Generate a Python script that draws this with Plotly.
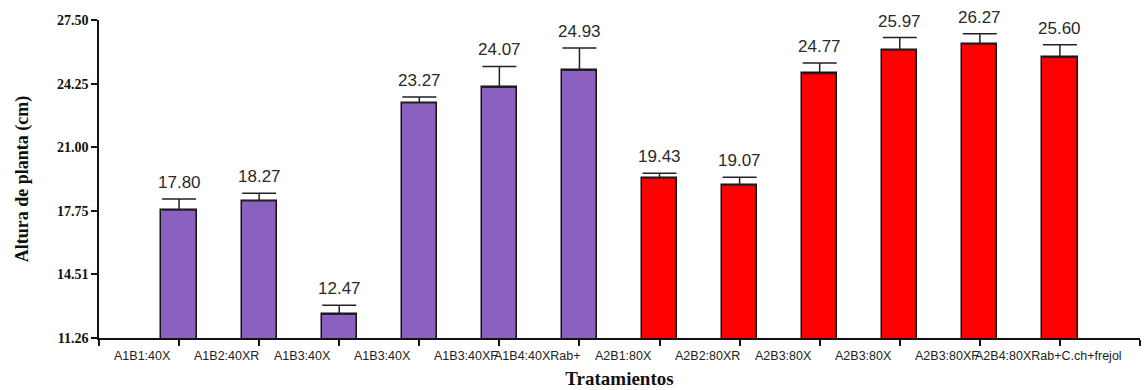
import plotly.graph_objects as go

# Treatment labels (as printed under each bar) and measured plant heights
tratamientos = ["A1B1:40X", "A1B2:40XR", "A1B3:40X", "A1B3:40X", "A1B3:40XF",
                "A1B4:40XRab+", "A2B1:80X", "A2B2:80XR", "A2B3:80X", "A2B3:80X",
                "A2B3:80XF", "A2B4:80XRab+C.ch+frejol"]
altura = [17.80, 18.27, 12.47, 23.27, 24.07, 24.93,
          19.43, 19.07, 24.77, 25.97, 26.27, 25.60]
error = [0.56, 0.38, 0.46, 0.30, 1.06, 1.14,
         0.25, 0.40, 0.53, 0.63, 0.53, 0.63]
grupo = ["A1"] * 6 + ["A2"] * 6

y_ticks = [11.26, 14.51, 17.75, 21.00, 24.25, 27.50]

colores = {"A1": "#8C60BE", "A2": "#FF0000"}
posiciones = list(range(1, len(tratamientos) + 1))

sans = "Liberation Sans, Arial, sans-serif"
serif = "Liberation Serif, Times New Roman, serif"

fig = go.Figure()
fig.add_trace(go.Bar(
    x=posiciones,
    y=altura,
    width=0.44,
    marker=dict(color=[colores[g] for g in grupo],
                line=dict(color="#111111", width=1.5)),
    error_y=dict(type="data", symmetric=False, array=error,
                 arrayminus=[0] * len(error),
                 color="#222222", thickness=1.5, width=17),
    showlegend=False,
    hoverinfo="skip",
))

# Value labels above each error bar
for x, v, e in zip(posiciones, altura, error):
    fig.add_annotation(x=x, y=v + e, text=f"{v:.2f}", showarrow=False,
                       yanchor="bottom", yshift=5,
                       font=dict(family=sans, size=17, color="#2a2a2a"))

# Category labels along the x axis
for x, t in zip(posiciones, tratamientos):
    shift = -87 if "Rab+" in t else -67
    fig.add_annotation(x=x, y=0, yref="paper", text=t, showarrow=False,
                       xanchor="left", yanchor="top", xshift=shift, yshift=-9,
                       font=dict(family=sans, size=12.5, color="#222222"))

fig.update_layout(
    width=1148, height=390,
    margin=dict(l=99, r=8, t=20, b=52),
    plot_bgcolor="white", paper_bgcolor="white",
    bargap=0,
)
fig.update_xaxes(
    range=[0, len(tratamientos) + 1],
    tickvals=list(range(0, len(tratamientos) + 2)),
    ticktext=[""] * (len(tratamientos) + 2),
    ticks="outside", ticklen=6, tickwidth=1.5, tickcolor="#111111",
    showline=True, linecolor="#111111", linewidth=1.5,
    showgrid=False, zeroline=False,
    title=dict(text="<b>Tratamientos</b>", standoff=25,
               font=dict(family=serif, size=19, color="#111111")),
)
fig.update_yaxes(
    range=[y_ticks[0], y_ticks[-1]],
    tickvals=y_ticks,
    ticktext=[f"<b>{v:.2f}</b>" for v in y_ticks],
    tickfont=dict(family=serif, size=14, color="#111111"),
    ticks="outside", ticklen=6, tickwidth=1.5, tickcolor="#111111",
    showline=True, linecolor="#111111", linewidth=1.5,
    showgrid=False, zeroline=False,
    title=dict(text="<b>Altura de planta (cm)</b>", standoff=24,
               font=dict(family=serif, size=18, color="#111111")),
)

fig.write_html("out.html")
